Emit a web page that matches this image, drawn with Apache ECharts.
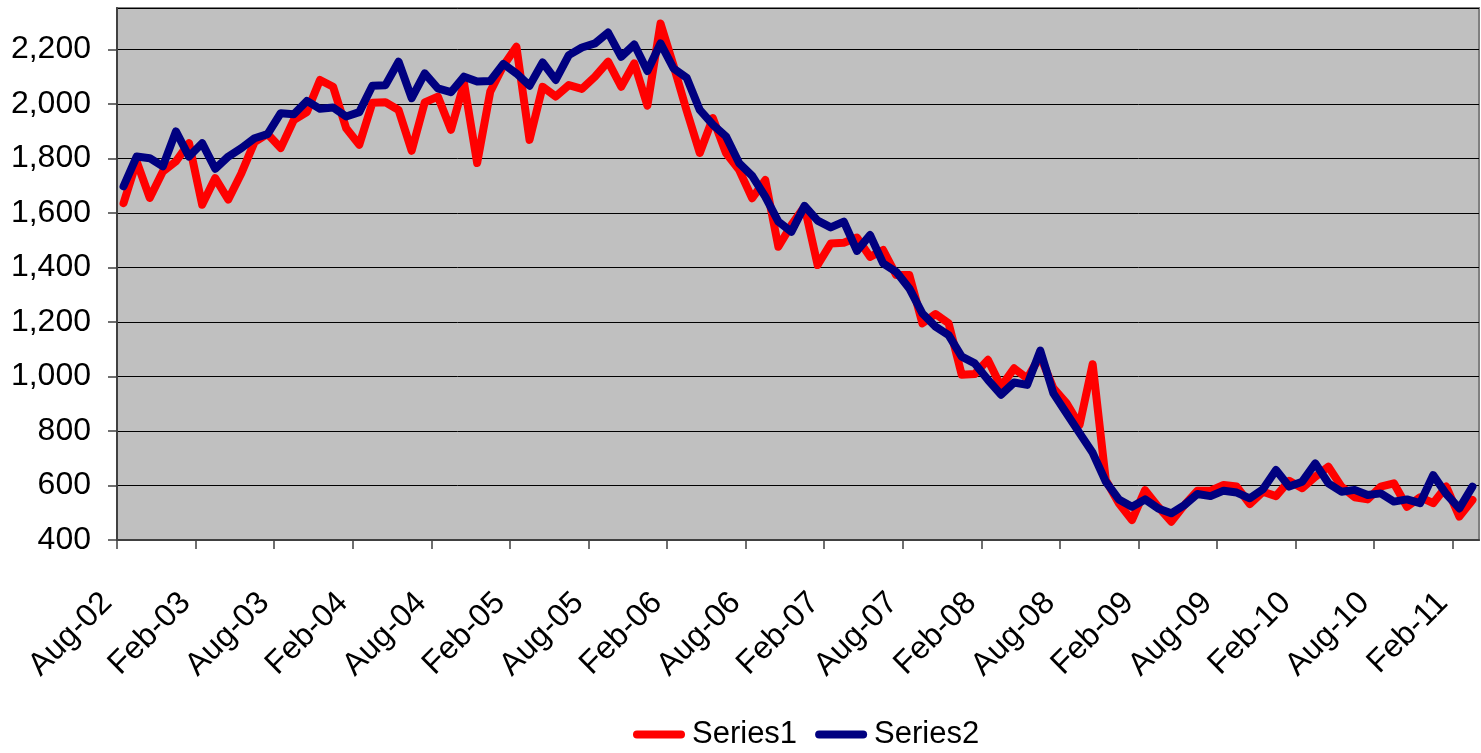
<!DOCTYPE html>
<html>
<head>
<meta charset="utf-8">
<script src="https://cdn.jsdelivr.net/npm/echarts@6/dist/echarts.min.js"></script>
<title>Series1 / Series2</title>
<style>
  html, body { margin: 0; background: #fff; }
  #main { width: 1481px; height: 753px; }
</style>
</head>
<body>
<div id="main"></div>
<script>
  // tick labels every 6 months, first month is Aug-02
  const tickLabels = ['Aug-02', 'Feb-03', 'Aug-03', 'Feb-04', 'Aug-04', 'Feb-05', 'Aug-05', 'Feb-06', 'Aug-06',
    'Feb-07', 'Aug-07', 'Feb-08', 'Aug-08', 'Feb-09', 'Aug-09', 'Feb-10', 'Aug-10', 'Feb-11'];

  // monthly values, Aug-02 .. Mar-11
  const series1 = [
    1636, 1789, 1655, 1752, 1789, 1856, 1630, 1728, 1649, 1746, 1860, 1890,
    1838, 1941, 1970, 2088, 2063, 1911, 1850, 2004, 2006, 1978, 1828, 2006,
    2027, 1905, 2076, 1783, 2045, 2140, 2210, 1868, 2063, 2027, 2069, 2055,
    2100, 2155, 2063, 2149, 1994, 2295, 2140, 1975, 1820, 1948, 1820, 1758,
    1654, 1721, 1476, 1556, 1623, 1409, 1488, 1491, 1510, 1439, 1464, 1372,
    1372, 1195, 1229, 1195, 1006, 1009, 1061, 963, 1030, 993, 1075, 957,
    902, 822, 1045, 620, 535, 473, 583, 522, 467, 528, 581, 581,
    602, 596, 532, 577, 561, 617, 590, 632, 669, 596, 557, 549,
    596, 608, 522, 557, 535, 596, 486, 547
  ];
  const series2 = [
    1698, 1807, 1801, 1771, 1899, 1807, 1856, 1762, 1807, 1838, 1874, 1889,
    1966, 1962, 2011, 1982, 1987, 1954, 1970, 2067, 2069, 2155, 2021, 2112,
    2057, 2043, 2100, 2082, 2084, 2147, 2112, 2067, 2152, 2088, 2179, 2207,
    2222, 2262, 2173, 2218, 2121, 2222, 2130, 2096, 1978, 1924, 1881, 1783,
    1736, 1660, 1568, 1531, 1626, 1572, 1547, 1568, 1461, 1519, 1415, 1384,
    1323, 1231, 1183, 1152, 1073, 1048, 988, 933, 978, 969, 1095, 938,
    865, 792, 720, 614, 549, 522, 549, 516, 498, 528, 569, 561,
    581, 574, 553, 586, 657, 596, 614, 681, 608, 577, 584, 565,
    571, 541, 549, 535, 638, 569, 516, 596
  ];

  const font = 'Liberation Sans, Arial, sans-serif';
  const monthCount = series1.length;

  // points sit in the middle of their month, like an Excel date axis
  function toPoints(values) {
    return values.map((v, i) => [i + 0.5, v]);
  }

  const chart = echarts.init(document.getElementById('main'));
  const option = {
    animation: false,
    backgroundColor: '#fff',
    textStyle: { fontFamily: font },
    grid: {
      left: 117, right: 2, top: 8, bottom: 213,
      containLabel: false,
      outerBoundsMode: 'none',
      show: true,
      backgroundColor: '#c0c0c0',
      borderColor: '#808080',
      borderWidth: 2
    },
    legend: {
      left: 633, top: 719, padding: 0,
      itemWidth: 44, itemHeight: 14, itemGap: 18,
      lineStyle: { width: 8, cap: 'round' },
      itemStyle: { opacity: 0 },
      textStyle: { fontFamily: font, fontSize: 31, color: '#000', padding: [0, 0, 0, 6] },
      data: ['Series1', 'Series2']
    },
    xAxis: {
      type: 'value',
      min: 0, max: monthCount, interval: 6,
      axisLine: { lineStyle: { color: '#404040', width: 2 } },
      axisTick: { show: true, length: 9, inside: false, lineStyle: { color: '#404040', width: 1.5 } },
      axisLabel: {
        rotate: 45, margin: 48, fontSize: 32, color: '#000', fontFamily: font,
        padding: [0, 14, 0, 0],
        showMaxLabel: false,
        formatter: v => (v % 6 === 0 && tickLabels[v / 6]) ? tickLabels[v / 6] : ''
      },
      splitLine: { show: false }
    },
    yAxis: {
      type: 'value',
      min: 400, max: 2352, interval: 200,
      axisLine: { show: true, lineStyle: { color: '#404040', width: 2 } },
      axisTick: { show: true, length: 9, inside: false, lineStyle: { color: '#404040', width: 1.5 } },
      axisLabel: {
        margin: 26, fontSize: 32, color: '#000', fontFamily: font,
        showMaxLabel: false,
        formatter: v => v % 200 === 0 ? v.toLocaleString('en-US') : ''
      },
      splitLine: { show: true, lineStyle: { color: '#000', width: 1 } }
    },
    series: [
      {
        name: 'Series1', type: 'line', data: toPoints(series1),
        symbol: 'none',
        lineStyle: { color: '#ff0000', width: 8, join: 'round', cap: 'round' },
        itemStyle: { color: '#ff0000' }
      },
      {
        name: 'Series2', type: 'line', data: toPoints(series2),
        symbol: 'none',
        lineStyle: { color: '#000080', width: 8, join: 'round', cap: 'round' },
        itemStyle: { color: '#000080' }
      }
    ]
  };
  chart.setOption(option);
</script>
</body>
</html>
